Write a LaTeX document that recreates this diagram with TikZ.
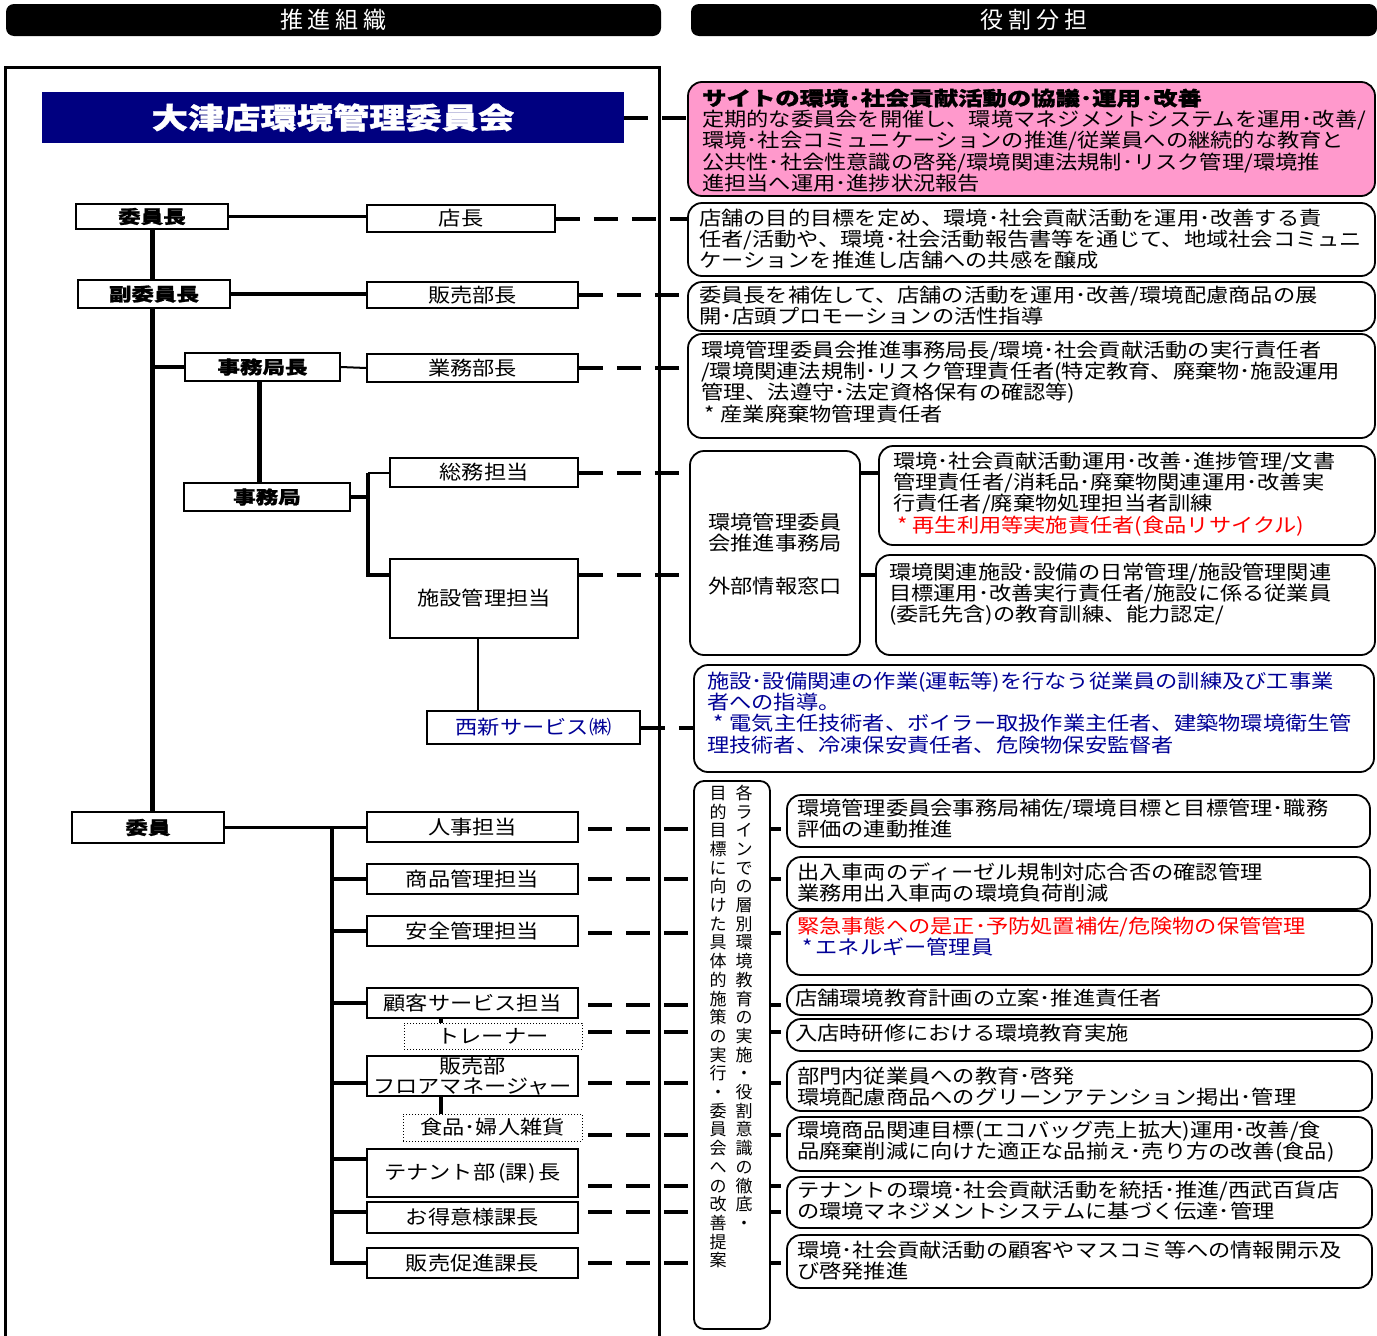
\documentclass[tikz,border=0pt]{standalone}
\usepackage{fontspec}
\setmainfont{Noto Sans CJK JP}[FakeStretch=1.14]
\newfontfamily\jpheavy{Noto Sans CJK JP}[FakeStretch=1.25, BoldFeatures={FakeBold=1.2}]
\newfontfamily\jpplain{Noto Sans CJK JP}
\usetikzlibrary{calc,backgrounds}
\definecolor{pinkfill}{RGB}{255,153,204}
\definecolor{navyfill}{RGB}{0,0,128}
\definecolor{navytext}{RGB}{0,0,150}
\definecolor{redtext}{RGB}{255,0,0}
\newcommand{\bodyf}{\fontsize{19.5}{21.2}\selectfont}
\newcommand{\heavyf}{\jpheavy\bfseries\fontsize{18}{20}\selectfont}
\newcommand{\hdrf}{\jpplain\fontsize{23}{25}\selectfont}
\newcommand{\titlef}{\jpheavy\bfseries\fontsize{29}{32}\selectfont}
\newcommand{\vertf}{\jpplain\fontsize{17}{18.7}\selectfont}
\begin{document}
\begin{tikzpicture}[x=1pt,y=-1pt,
  lbox/.style={draw, line width=1.5pt, fill=white, inner sep=0pt, font=\bodyf},
  hbox/.style={lbox, font=\heavyf},
  dbox/.style={draw, dotted, line width=1pt, fill=white, inner sep=0pt, font=\bodyf},
  rbox/.style={draw, line width=1.8pt, rounded corners=14pt, inner sep=0pt, fill=white},
  txt/.style={inner sep=0pt, anchor=base west, align=left, text width=665pt, font=\bodyf},
  vtxt/.style={inner sep=0pt, anchor=base, align=center, text width=22pt, font=\vertf},
  dline/.style={line width=4pt, dash pattern=on 24pt off 14pt},
  c2/.style={line width=2pt},
  c3/.style={line width=3.5pt},
  c4/.style={line width=4pt},
  c5/.style={line width=5pt},
  hdr/.style={fill=black, rounded corners=8pt, minimum height=32pt, inner sep=0pt, text=white, font=\hdrf}
]
\useasboundingbox (0,0) rectangle (1377,1336);

% headers
\node[hdr, minimum width=655pt] (hL) at (333.5,20) {推\hspace{5pt}進\hspace{5pt}組\hspace{5pt}織};
\node[hdr, minimum width=686pt] (hR) at (1034,20) {役\hspace{5pt}割\hspace{5pt}分\hspace{5pt}担};

% title
\node[fill=navyfill, minimum width=582pt, minimum height=51pt, inner sep=0pt, text=white, font=\titlef] (title) at (333,117.5) {大津店環境管理委員会};

% left nodes
\node[hbox, minimum width=152pt, minimum height=25pt] (chair) at (152,216.5) {委員長};
\node[lbox, minimum width=188pt, minimum height=27pt] (tencho) at (461,218.5) {店長};
\node[hbox, minimum width=152pt, minimum height=28pt] (vice) at (154,294) {副委員長};
\node[lbox, minimum width=211pt, minimum height=26pt] (hanbai) at (472.5,295) {販売部長};
\node[hbox, minimum width=155pt, minimum height=28pt] (jimuchou) at (262.5,367) {事務局長};
\node[lbox, minimum width=211pt, minimum height=28pt] (gyomu) at (472.5,368) {業務部長};
\node[hbox, minimum width=166pt, minimum height=28pt] (jimukyoku) at (267,497) {事務局};
\node[lbox, minimum width=188pt, minimum height=29pt] (somu) at (484,472.5) {総務担当};
\node[lbox, minimum width=188pt, minimum height=79pt] (shisetsu) at (484,598.5) {施設管理担当};
\node[lbox, minimum width=213pt, minimum height=33pt, text=navytext] (seishin) at (533.5,727.5) {西新サービス㈱};
\node[hbox, minimum width=152pt, minimum height=31pt] (iin) at (148,827.5) {委員};
\node[lbox, minimum width=211pt, minimum height=30pt] (jinji) at (472.5,827) {人事担当};
\node[lbox, minimum width=211pt, minimum height=30pt] (shohin) at (472.5,879) {商品管理担当};
\node[lbox, minimum width=211pt, minimum height=30pt] (anzen) at (472.5,931) {安全管理担当};
\node[lbox, minimum width=211pt, minimum height=30pt] (kokyaku) at (472.5,1003) {顧客サービス担当};
\node[dbox, minimum width=178pt, minimum height=26pt] (trainer) at (493,1036) {トレーナー};
\node[lbox, minimum width=211pt, minimum height=40pt, align=center, font=\fontsize{19.5}{20.5}\selectfont] (floor) at (472.5,1076) {販売部\\フロアマネージャー};
\node[dbox, minimum width=179pt, minimum height=27pt] (shokuhin) at (492.5,1127.5) {食品･婦人雑貨};
\node[lbox, minimum width=211pt, minimum height=48pt] (tenant) at (472.5,1173) {テナント部\hspace{3pt}(課)\hspace{3pt}長};
\node[lbox, minimum width=211pt, minimum height=31pt] (otokui) at (472.5,1217.5) {お得意様課長};
\node[lbox, minimum width=211pt, minimum height=30pt] (hansoku) at (472.5,1263) {販売促進課長};

% right boxes
\node[rbox, fill=pinkfill, minimum width=687pt, minimum height=114pt] (pk) at (1031.5,139) {};
\node[txt] (pkt) at (702,105.5) {{\jpheavy\bfseries サイトの環境･社会貢献活動の協議･運用･改善}\\
定期的な委員会を開催し、環境マネジメントシステムを運用･改善/\\
環境･社会コミュニケーションの推進/従業員への継続的な教育と\\
公共性･社会性意識の啓発/環境関連法規制･リスク管理/環境推\\
進担当へ運用･進捗状況報告};

\node[rbox, minimum width=687pt, minimum height=73pt] (r2) at (1031.5,239.5) {};
\node[txt] (r2t) at (699,225.5) {店舗の目的目標を定め、環境･社会貢献活動を運用･改善する責\\
任者/活動や、環境･社会活動報告書等を通じて、地域社会コミュニ\\
ケーションを推進し店舗への共感を醸成};

\node[rbox, minimum width=687pt, minimum height=49pt] (r3) at (1031.5,306.5) {};
\node[txt] (r3t) at (699,302.5) {委員長を補佐して、店舗の活動を運用･改善/環境配慮商品の展\\
開･店頭プロモーションの活性指導};

\node[rbox, minimum width=687pt, minimum height=104pt] (r4) at (1031.5,386) {};
\node[txt] (r4t) at (701,357.5) {環境管理委員会推進事務局長/環境･社会貢献活動の実行責任者\\
/環境関連法規制･リスク管理責任者(特定教育、廃棄物･施設運用\\
管理、法遵守･法定資格保有の確認等)\\
\hspace*{3pt}*\hspace{6pt}産業廃棄物管理責任者};

\node[rbox, minimum width=170pt, minimum height=204pt] (sec) at (775,553) {};
\node[inner sep=0pt, anchor=base, align=center, text width=165pt, font=\bodyf] (sect) at (775,529.5) {環境管理委員\\会推進事務局\\[21.2pt]外部情報窓口};

\node[rbox, minimum width=496pt, minimum height=99pt] (r5) at (1127,495.5) {};
\node[txt, text width=480pt] (r5t) at (893,468.5) {環境･社会貢献活動運用･改善･進捗管理/文書\\
管理責任者/消耗品･廃棄物関連運用･改善実\\
行責任者/廃棄物処理担当者訓練\\
\textcolor{redtext}{\hspace*{4pt}*\hspace{5pt}再生利用等実施責任者(食品リサイクル)}};

\node[rbox, minimum width=499pt, minimum height=100pt] (r6) at (1125.5,605) {};
\node[txt, text width=480pt] (r6t) at (889,579.5) {環境関連施設･設備の日常管理/施設管理関連\\
目標運用･改善実行責任者/施設に係る従業員\\
(委託先含)の教育訓練、能力認定/};

\node[rbox, minimum width=680pt, minimum height=107pt] (r7) at (1034,718.5) {};
\node[txt, text=navytext] (r7t) at (707,688.5) {施設･設備関連の作業(運転等)を行なう従業員の訓練及び工事業\\
者への指導。\\
\hspace*{6pt}*\hspace{6pt}電気主任技術者、ボイラー取扱作業主任者、建築物環境衛生管\\
理技術者、冷凍保安責任者、危険物保安監督者};

% vertical box
\node[rbox, rounded corners=10pt, minimum width=76pt, minimum height=548pt] (vb) at (732,1055) {};
\node[vtxt] (vL) at (718,799.3) {目\\的\\目\\標\\に\\向\\け\\た\\具\\体\\的\\施\\策\\の\\実\\行\\・\\委\\員\\会\\へ\\の\\改\\善\\提\\案};
\node[vtxt] (vR) at (744,799.3) {各\\ラ\\イ\\ン\\で\\の\\層\\別\\環\\境\\教\\育\\の\\実\\施\\・\\役\\割\\意\\識\\の\\徹\\底\\・};

% lower right boxes
\node[rbox, minimum width=583pt, minimum height=52pt] (b8) at (1078.5,821) {};
\node[txt, text width=570pt] (b8t) at (797,815.5) {環境管理委員会事務局補佐/環境目標と目標管理･職務\\評価の連動推進};
\node[rbox, minimum width=583pt, minimum height=52pt] (b9) at (1078.5,883) {};
\node[txt, text width=570pt] (b9t) at (797,879.5) {出入車両のディーゼル規制対応合否の確認管理\\業務用出入車両の環境負荷削減};
\node[rbox, minimum width=585pt, minimum height=64pt] (b10) at (1079.5,943) {};
\node[txt, text width=570pt] (b10t) at (797,933.5) {\textcolor{redtext}{緊急事態への是正･予防処置補佐/危険物の保管管理}\\\textcolor{navytext}{\hspace*{5pt}*\hspace{3pt}エネルギー管理員}};
\node[rbox, minimum width=585pt, minimum height=30pt] (b11) at (1079.5,1000) {};
\node[txt, text width=570pt] (b11t) at (795,1005.5) {店舗環境教育計画の立案･推進責任者};
\node[rbox, minimum width=585pt, minimum height=32pt] (b12) at (1079.5,1035) {};
\node[txt, text width=570pt] (b12t) at (795,1040.5) {入店時研修における環境教育実施};
\node[rbox, minimum width=585pt, minimum height=50pt] (b13) at (1079.5,1086) {};
\node[txt, text width=570pt] (b13t) at (797,1083.5) {部門内従業員への教育･啓発\\環境配慮商品へのグリーンアテンション掲出･管理};
\node[rbox, minimum width=585pt, minimum height=54pt] (b14) at (1079.5,1144) {};
\node[txt, text width=570pt] (b14t) at (797,1137.5) {環境商品関連目標(エコバッグ売上拡大)運用･改善/食\\品廃棄削減に向けた適正な品揃え･売り方の改善(食品)};
\node[rbox, minimum width=585pt, minimum height=51pt] (b15) at (1079.5,1202.5) {};
\node[txt, text width=570pt] (b15t) at (797,1197.5) {テナントの環境･社会貢献活動を統括･推進/西武百貨店\\の環境マネジメントシステムに基づく伝達･管理};
\node[rbox, minimum width=585pt, minimum height=53pt] (b16) at (1079.5,1261.5) {};
\node[txt, text width=570pt] (b16t) at (797,1257.5) {環境･社会貢献活動の顧客やマスコミ等への情報開示及\\び啓発推進};

\begin{pgfonlayer}{background}
% frame
\draw[line width=3pt] (5,1345) -- (5,67) -- (659,67) -- (659,1345);
% upper connectors
\draw[c3] (chair.east) -- (chair.east -| tencho.west);
\draw[c3] (vice.east) -- (vice.east -| hanbai.west);
\draw[c5] (chair.south) -- (chair.south |- iin.north);
\draw[c3] (chair.south |- jimuchou.west) -- (jimuchou.west);
\draw[c2] (jimuchou.east) -- (gyomu.west);
\coordinate (jcs) at ($(jimuchou.south)+(-3,0)$);
\draw[c5] (jcs) -- (jcs |- jimukyoku.north);
\coordinate (jx) at (368,0);
\coordinate (sj) at ($(shisetsu.north west)+(0,17)$);
\coordinate (sje) at ($(shisetsu.north east)+(0,17)$);
\draw[c3] (jimukyoku.east) -- (jx |- jimukyoku.east);
\draw[c2] (jx |- somu.west) -- (somu.west);
\draw[c4] (jx |- somu.west) -- (jx |- sj) -- (sj);
\coordinate (ss) at ($(shisetsu.south)+(-6,0)$);
\draw[c2] (ss) -- (ss |- seishin.north);
% lower connectors
\coordinate (kx) at (332,0);
\draw[c3] (iin.east) -- (iin.east -| jinji.west);
\draw[c4] (kx |- iin.east) -- (kx |- hansoku.west) -- (hansoku.west);
\draw[c3] (kx |- shohin.west) -- (shohin.west);
\draw[c3] (kx |- anzen.west) -- (anzen.west);
\draw[c3] (kx |- kokyaku.west) -- (kokyaku.west);
\draw[c3] ($(kx |- floor.west)+(0,7)$) -- ($(floor.west)+(0,7)$);
\draw[c3] ($(kx |- tenant.west)+(0,-14)$) -- ($(tenant.west)+(0,-14)$);
\draw[c3] ($(kx |- otokui.west)+(0,-5.5)$) -- ($(otokui.west)+(0,-5.5)$);
\coordinate (kk) at ($(kokyaku.south)+(-31.5,0)$);
\draw[c3] (kk) -- (kk |- trainer.north);
\coordinate (fk) at ($(floor.south)+(-31.5,0)$);
\draw[c3] (fk) -- (fk |- shokuhin.north);
% dashed upper
\draw[dline] (title.east) -- (title.east -| pk.west);
\draw[dline] (tencho.east) -- (tencho.east -| r2.west);
\draw[dline] (hanbai.east) -- (hanbai.east -| r3.west);
\draw[dline] (gyomu.east) -- (gyomu.east -| r4.west);
\draw[dline] (somu.east) -- (somu.east -| sec.west);
\draw[dline] (sec.east |- somu.east) -- (somu.east -| r5.west);
\draw[dline] (sje) -- (sje -| sec.west);
\draw[dline] (sec.east |- sje) -- (sje -| r6.west);
\draw[dline] (seishin.east) -- (seishin.east -| r7.west);
% dashed lower
\coordinate (dx) at (588,0);
\coordinate (dJ) at ($(dx |- jinji.east)+(0,2)$);
\coordinate (dS) at (dx |- shohin.east);
\coordinate (dA) at ($(dx |- anzen.east)+(0,2)$);
\coordinate (dK) at ($(dx |- kokyaku.east)+(0,2)$);
\coordinate (dT) at ($(dx |- trainer.east)+(0,-4)$);
\coordinate (dF) at ($(dx |- floor.east)+(0,7)$);
\coordinate (dH) at ($(dx |- shokuhin.east)+(0,7.5)$);
\coordinate (dN) at ($(dx |- tenant.east)+(0,13)$);
\coordinate (dO) at ($(dx |- otokui.east)+(0,-5.5)$);
\coordinate (dP) at (dx |- hansoku.east);
\foreach \c/\b in {dJ/b8, dS/b9, dA/b10, dK/b11, dT/b12, dF/b13, dH/b14, dN/b15, dO/b15, dP/b16} {
  \draw[dline] (\c) -- ($(\c -| vb.west)+(-4,0)$);
  \draw[dline] (\c -| vb.east) -- ($(\c -| \b.west)+(-5,0)$);
}
\end{pgfonlayer}
\end{tikzpicture}
\end{document}
